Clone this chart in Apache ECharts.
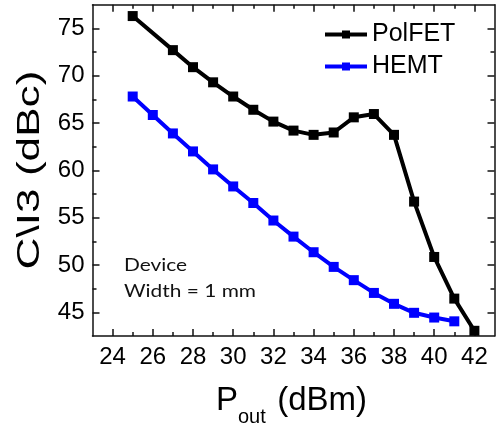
<!DOCTYPE html>
<html>
<head>
<meta charset="utf-8">
<script src="https://cdn.jsdelivr.net/npm/echarts@6/dist/echarts.min.js"></script>
<style>
  html, body { margin: 0; padding: 0; background: #fff; }
  #main { width: 496px; height: 425px; }
</style>
</head>
<body>
<div id="main"></div>
<script type="text/javascript">
// PolFET: no point at 26 dBm
var polX = [25, 27, 28, 29, 30, 31, 32, 33, 34, 35, 36, 37, 38, 39, 40, 41, 42];
var polY = [76.3, 72.7, 70.9, 69.3, 67.8, 66.4, 65.15, 64.2, 63.75, 64.0, 65.6, 65.95, 63.75, 56.7, 50.85, 46.45, 43.05];
var hemtX = [25, 26, 27, 28, 29, 30, 31, 32, 33, 34, 35, 36, 37, 38, 39, 40, 41];
var hemtY = [67.8, 65.85, 63.9, 62.0, 60.1, 58.3, 56.55, 54.7, 53.0, 51.35, 49.8, 48.4, 47.05, 45.9, 44.95, 44.45, 44.05];

var xMajor = [24, 26, 28, 30, 32, 34, 36, 38, 40, 42];
var xMinor = [25, 27, 29, 31, 33, 35, 37, 39, 41];
var yMajor = [45, 50, 55, 60, 65, 70, 75];
var yMinor = [47.5, 52.5, 57.5, 62.5, 67.5, 72.5];

var FONT = 'Liberation Sans';
var axisColor = '#111';

function pairs(xs, ys) {
  return xs.map(function (x, i) { return [x, ys[i]]; });
}

function xAxisDef(pos, ticks, len, withLine, withLabels) {
  return {
    type: 'value', min: 23, max: 43, position: pos,
    axisLine: { show: withLine, lineStyle: { color: axisColor, width: 1.5 } },
    axisTick: { show: true, inside: true, length: len, customValues: ticks,
                lineStyle: { color: axisColor, width: 1.5 } },
    axisLabel: withLabels ? { show: true, customValues: ticks, margin: 9,
                fontFamily: FONT, fontSize: 24, color: '#000' } : { show: false },
    splitLine: { show: false }
  };
}

function yAxisDef(pos, ticks, len, withLine, withLabels) {
  return {
    type: 'value', min: 42.5, max: 77.5, position: pos,
    axisLine: { show: withLine, lineStyle: { color: axisColor, width: 1.5 } },
    axisTick: { show: true, inside: true, length: len, customValues: ticks,
                lineStyle: { color: axisColor, width: 1.5 } },
    axisLabel: withLabels ? { show: true, customValues: ticks, margin: 8,
                fontFamily: FONT, fontSize: 24, color: '#000' } : { show: false },
    splitLine: { show: false }
  };
}

var chart = echarts.init(document.getElementById('main'));

var option = {
  animation: false,
  backgroundColor: '#fff',
  grid: { left: 92.5, right: 1.5, top: 4.7, bottom: 89 },
  legend: {
    orient: 'vertical', left: 318, top: 17,
    itemWidth: 42, itemHeight: 10, itemGap: 7,
    lineStyle: { width: 4 },
    textStyle: { fontFamily: FONT, fontSize: 25, color: '#000' },
    data: ['PolFET', 'HEMT']
  },
  xAxis: [
    xAxisDef('bottom', xMajor, 7, true, true),
    xAxisDef('bottom', xMinor, 4, false, false),
    xAxisDef('top', xMajor, 7, true, false),
    xAxisDef('top', xMinor, 4, false, false)
  ],
  yAxis: [
    yAxisDef('left', yMajor, 7, true, true),
    yAxisDef('left', yMinor, 4, false, false),
    yAxisDef('right', yMajor, 7, true, false),
    yAxisDef('right', yMinor, 4, false, false)
  ],
  graphic: [
    {
      type: 'text', x: 46, y: 170, rotation: Math.PI / 2, scaleX: 1.38,
      style: { text: 'C\\I3 (dBc)', fontFamily: FONT, fontSize: 32, fill: '#000',
               align: 'center', verticalAlign: 'bottom' }
    },
    {
      type: 'text', x: 216, y: 384,
      style: { text: 'P', fontFamily: FONT, fontSize: 33, fill: '#000', verticalAlign: 'top' }
    },
    {
      type: 'text', x: 238, y: 407,
      style: { text: 'out', fontFamily: FONT, fontSize: 20, fill: '#000', verticalAlign: 'top' }
    },
    {
      type: 'text', x: 268, y: 384,
      style: { text: ' (dBm)', fontFamily: FONT, fontSize: 33, fill: '#000', verticalAlign: 'top' }
    },
    {
      type: 'text', x: 124, y: 252, scaleX: 1.16,
      style: { text: 'Device\nWidth = 1 mm', fontFamily: 'Lato', fontSize: 18,
               lineHeight: 26, fill: '#111', verticalAlign: 'top' }
    }
  ],
  series: [
    {
      name: 'PolFET', type: 'line', xAxisIndex: 0, yAxisIndex: 0,
      data: pairs(polX, polY),
      symbol: 'rect', symbolSize: 10,
      itemStyle: { color: '#000' },
      lineStyle: { color: '#000', width: 4 }
    },
    {
      name: 'HEMT', type: 'line', xAxisIndex: 0, yAxisIndex: 0,
      data: pairs(hemtX, hemtY),
      symbol: 'rect', symbolSize: 10,
      itemStyle: { color: '#0000ff' },
      lineStyle: { color: '#0000ff', width: 4 }
    }
  ]
};

chart.setOption(option);
</script>
</body>
</html>
